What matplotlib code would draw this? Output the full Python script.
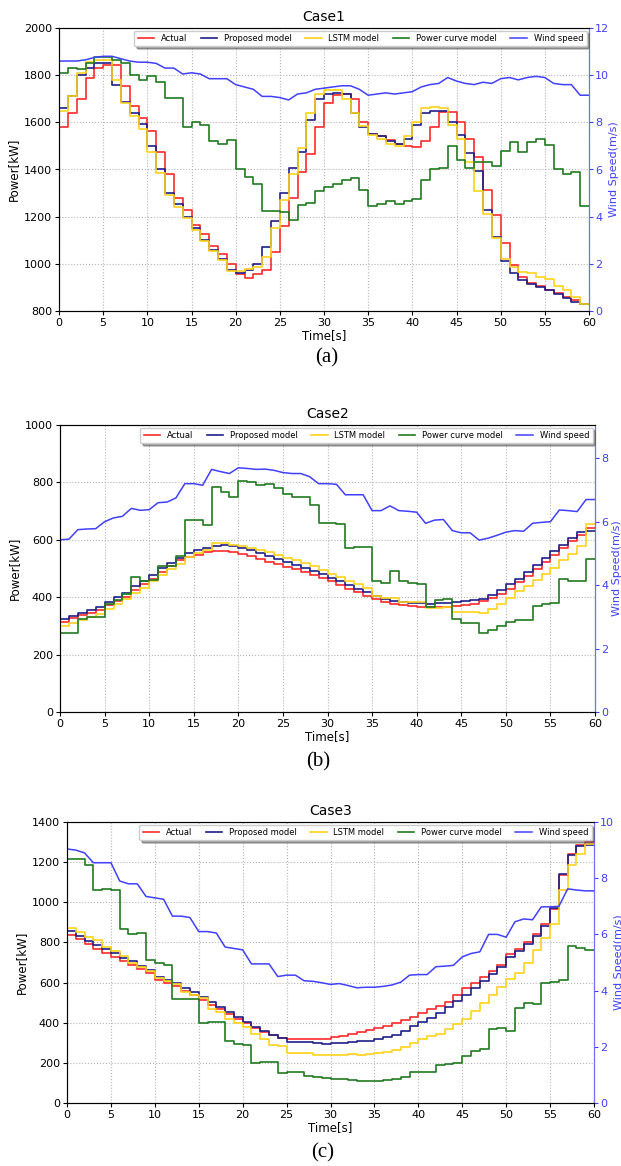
import numpy as np
import matplotlib
matplotlib.use("Agg")
import matplotlib.pyplot as plt

t = np.arange(61)

# Case1
a_actual = [1580,1640,1700,1790,1830,1845,1845,1755,1670,1620,
            1565,1475,1380,1280,1230,1165,1125,1075,1040,1000,
            955,940,955,975,1050,1160,1280,1390,1465,1580,
            1680,1715,1720,1700,1600,1550,1540,1525,1510,1500,
            1495,1520,1580,1645,1645,1600,1530,1455,1315,1205,
            1090,995,945,920,905,890,875,860,845,828,828]
a_prop = [1660,1712,1800,1832,1850,1850,1760,1685,1640,1595,
          1500,1400,1300,1255,1200,1150,1100,1060,1020,975,
          960,975,1000,1070,1180,1300,1405,1475,1610,1700,
          1720,1725,1720,1640,1580,1550,1540,1520,1510,1530,
          1590,1640,1650,1650,1600,1545,1470,1395,1230,1115,
          1010,960,930,915,900,890,870,855,840,830,830]
a_lstm = [1650,1710,1810,1855,1865,1865,1780,1680,1625,1570,
          1475,1385,1290,1240,1195,1145,1095,1055,1015,970,
          970,978,985,1030,1150,1270,1380,1490,1640,1720,
          1735,1738,1700,1640,1585,1545,1530,1510,1500,1540,
          1600,1660,1665,1660,1590,1530,1430,1310,1210,1110,
          1020,985,965,960,945,935,905,890,860,830,830]
a_power = [1810,1830,1825,1850,1875,1875,1865,1850,1800,1780,
           1795,1770,1705,1705,1580,1600,1590,1520,1510,1525,
           1400,1370,1340,1225,1225,1220,1185,1250,1260,1310,
           1325,1340,1355,1365,1315,1245,1255,1265,1255,1265,
           1275,1355,1400,1405,1500,1440,1405,1430,1430,1415,
           1480,1515,1475,1515,1530,1505,1400,1380,1390,1245,1245]
a_wind = [10.6,10.6,10.6,10.65,10.75,10.8,10.8,10.7,10.6,10.55,
          10.55,10.5,10.3,10.3,10.05,10.1,10.05,9.85,9.85,9.85,
          9.6,9.5,9.4,9.1,9.1,9.05,8.95,9.2,9.25,9.4,
          9.45,9.5,9.55,9.55,9.4,9.15,9.2,9.25,9.2,9.25,
          9.3,9.5,9.6,9.65,9.9,9.75,9.65,9.6,9.7,9.65,
          9.85,9.9,9.8,9.9,9.95,9.9,9.65,9.6,9.6,9.15,9.15]

# Case2
b_actual = [315,326,338,345,355,372,387,402,425,445,
            465,488,510,528,540,548,556,561,561,557,
            551,542,533,524,515,506,497,487,477,466,
            455,443,430,417,404,393,385,378,373,369,
            366,366,366,367,368,372,378,386,396,410,
            430,452,475,498,522,548,572,595,618,640,640]
b_prop = [325,335,345,355,367,385,400,415,440,455,
          478,503,520,538,555,565,572,580,582,578,
          572,563,553,543,533,523,513,503,492,480,
          468,455,442,430,418,405,395,388,384,381,
          380,378,380,381,383,386,390,395,408,425,
          445,465,488,512,537,560,582,605,628,630,630]
b_lstm = [300,310,322,330,340,358,375,393,413,433,
          455,478,498,515,540,555,565,588,588,583,
          578,572,565,556,547,538,528,518,507,495,
          482,470,457,445,432,405,398,398,385,385,
          385,362,362,365,350,350,350,345,360,378,
          398,420,438,460,480,502,530,552,580,655,655]
b_power = [275,275,325,330,330,375,390,410,470,455,
           460,510,510,545,670,670,650,785,765,750,
           805,800,790,795,780,760,750,750,720,660,
           660,655,570,575,575,455,450,490,455,450,
           445,365,390,395,325,310,310,275,285,300,
           315,322,322,368,378,380,462,455,455,533,533]
b_wind = [5.43,5.45,5.75,5.77,5.78,6.0,6.12,6.17,6.42,6.36,
          6.38,6.6,6.62,6.75,7.2,7.2,7.15,7.65,7.58,7.52,
          7.7,7.68,7.65,7.66,7.62,7.55,7.52,7.52,7.42,7.2,
          7.2,7.18,6.85,6.85,6.85,6.35,6.35,6.5,6.35,6.33,
          6.3,5.95,6.05,6.07,5.72,5.65,5.65,5.42,5.48,5.57,
          5.67,5.72,5.7,5.95,5.98,6.0,6.37,6.35,6.32,6.7,6.7]

# Case3
c_actual = [835,815,790,765,745,725,705,690,670,650,
            615,600,585,560,540,515,490,470,445,420,
            400,375,355,340,325,320,318,317,318,320,
            328,335,345,352,362,372,385,398,412,430,
            448,468,485,505,540,575,600,630,660,690,
            740,765,800,840,890,965,1135,1240,1285,1300,1300]
c_prop = [855,830,805,785,765,745,720,705,685,665,
          630,615,600,575,555,530,505,480,455,430,
          405,380,358,340,325,305,304,302,298,296,
          297,300,305,307,310,318,328,340,360,385,
          405,425,450,480,510,540,575,610,645,680,
          725,755,790,830,880,970,1140,1235,1280,1285,1285]
c_lstm = [870,850,825,810,775,755,730,700,680,660,
          625,610,595,555,540,525,470,455,420,400,
          380,345,320,290,285,250,250,248,240,238,
          238,240,243,240,243,250,255,265,280,300,
          320,335,345,370,395,420,460,500,540,580,
          620,650,700,760,820,890,1060,1185,1240,1290,1290]
c_power = [1215,1215,1185,1060,1065,1060,865,840,845,710,
           700,690,520,520,520,400,405,405,310,295,
           290,200,205,205,150,155,155,135,130,125,
           120,120,115,110,110,112,115,120,130,155,
           155,155,190,195,200,235,260,270,370,375,
           360,475,500,495,600,605,615,780,770,760,760]
c_wind = [9.04,9.0,8.9,8.55,8.55,8.55,7.9,7.8,7.8,7.35,
          7.3,7.25,6.65,6.65,6.6,6.1,6.1,6.05,5.55,5.5,
          5.45,4.95,4.95,4.95,4.5,4.55,4.55,4.35,4.33,4.28,
          4.22,4.25,4.18,4.1,4.12,4.12,4.15,4.2,4.3,4.55,
          4.57,4.57,4.85,4.87,4.9,5.2,5.32,5.38,6.0,6.0,
          5.9,6.45,6.55,6.52,6.98,6.98,7.0,7.62,7.58,7.55,7.55]

RED = "#ff2a2a"
NAVY = "#1f1f8a"
GOLD = "#ffd21a"
GREEN = "#217a21"
WIND = "#4040ff"


def panel(rect, title, actual, prop, lstm, power, wind, ylim, wlim, wticks,
          caption, cap_xy, wpad=0):
    ax = fig.add_axes(rect)
    ax.plot(t, actual, color=RED, lw=1.2, drawstyle="steps-post", label="Actual")
    ax.plot(t, prop, color=NAVY, lw=1.2, drawstyle="steps-post", label="Proposed model")
    ax.plot(t, lstm, color=GOLD, lw=1.2, drawstyle="steps-post", label="LSTM model")
    ax.plot(t, power, color=GREEN, lw=1.2, drawstyle="steps-post", label="Power curve model")
    ax.set_xlim(0, 60)
    ax.set_ylim(*ylim)
    ax.set_xticks(range(0, 61, 5))
    ax.grid(True, ls=":", color="#b5b5b5", lw=0.8)
    ax.tick_params(labelsize=8, length=3, pad=2)
    ax.set_xlabel("Time[s]", fontsize=8.5, labelpad=1)
    ax.set_ylabel("Power[kW]", fontsize=8.5, labelpad=3)
    ax.set_title(title, fontsize=10, pad=5)
    for s in ax.spines.values():
        s.set_color("#555555")

    ax2 = ax.twinx()
    ax2.plot(t, wind, color=WIND, lw=1.1, label="Wind speed")
    ax2.set_ylim(*wlim)
    ax2.set_yticks(wticks)
    ax2.tick_params(axis="y", colors=WIND, labelsize=8, length=3, pad=1.5)
    ax2.spines["right"].set_color("#7070ff")
    ax2.set_ylabel("Wind Speed(m/s)", color=WIND, fontsize=8, labelpad=wpad)

    h1, l1 = ax.get_legend_handles_labels()
    h2, l2 = ax2.get_legend_handles_labels()
    ax2.legend(h1 + h2, l1 + l2, loc="upper right", ncol=5, fontsize=6,
               shadow=True, borderaxespad=0.3, handlelength=2.0,
               columnspacing=1.6, handletextpad=0.8, framealpha=1)
    fig.text(cap_xy[0], cap_xy[1], caption, fontsize=15, family="Liberation Serif",
             ha="center", va="center")


fig = plt.figure(figsize=(6.21, 11.66), dpi=100)

panel([59/621, 1-311/1166, 530/621, 283/1166], "Case1",
      a_actual, a_prop, a_lstm, a_power, a_wind,
      (800, 2000), (0, 12), range(0, 13, 2), "(a)", (327/621, 1-358/1166))
panel([60/621, 1-712/1166, 535/621, 287/1166], "Case2",
      b_actual, b_prop, b_lstm, b_power, b_wind,
      (0, 1000), (0, 9.05), range(0, 9, 2), "(b)", (318/621, 1-762/1166), wpad=2.5)
panel([67/621, 1-1103/1166, 527/621, 281/1166], "Case3",
      c_actual, c_prop, c_lstm, c_power, c_wind,
      (0, 1400), (0, 10), range(0, 11, 2), "(c)", (323/621, 1-1153/1166))

fig.savefig("out.png", dpi=100)
